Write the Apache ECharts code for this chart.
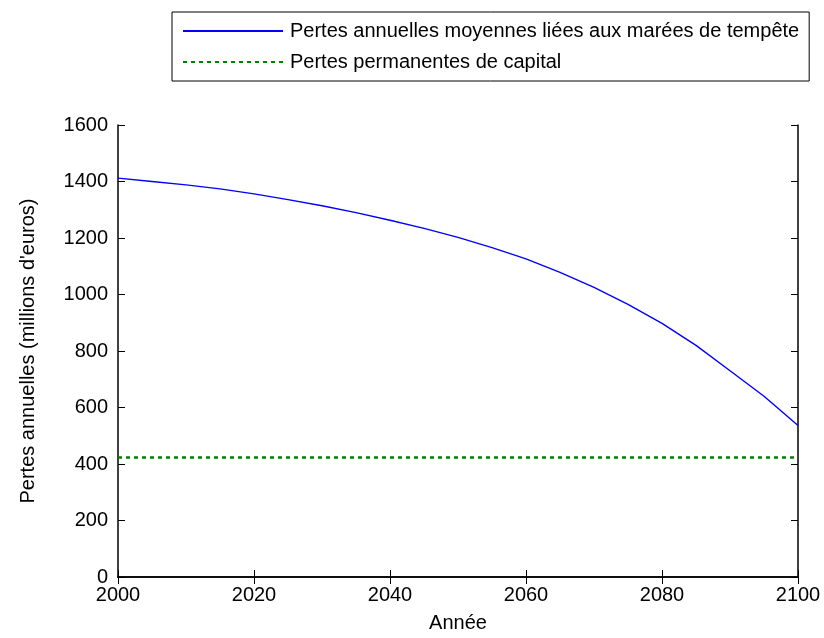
<!DOCTYPE html>
<html>
<head>
<meta charset="utf-8">
<script src="https://cdn.jsdelivr.net/npm/echarts@6/dist/echarts.min.js"></script>
<style>
html,body{margin:0;padding:0;background:#fff;}
#chart{width:824px;height:638px;}
</style>
</head>
<body>
<div id="chart"></div>
<script>
const years = [2000,2005,2010,2015,2020,2025,2030,2035,2040,2045,2050,2055,2060,2065,2070,2075,2080,2085,2090,2095,2100];
const stormLosses = [1412,1400,1388,1374,1356,1336,1314,1290,1263,1234,1202,1166,1126,1078,1025,965,898,820,730,640,536];
const capitalYears = [2000,2100];
const capitalLosses = [423,423];
const seriesNames = ['Pertes annuelles moyennes liées aux marées de tempête','Pertes permanentes de capital'];
const xTitle = 'Année';
const yTitle = "Pertes annuelles (millions d'euros)";

const FONT = 'Liberation Sans, Arial, sans-serif';
const FS = 20;
const chart = echarts.init(document.getElementById('chart'), null, {renderer:'canvas'});
const axisCommon = {
  type:'value',
  axisLine:{show:true,lineStyle:{color:'#000',width:1.5}},
  axisTick:{show:true,inside:true,length:7,lineStyle:{color:'#000',width:1}},
  splitLine:{show:false}
};
const plain = v => String(v);
chart.setOption({
  animation:false,
  backgroundColor:'#fff',
  textStyle:{fontFamily:FONT},
  grid:{left:118,right:26,top:125,bottom:45,containLabel:false},
  legend:{
    orient:'vertical',left:172,top:12,
    padding:[9,10,9,10],itemGap:11,itemWidth:100,itemHeight:20,
    borderColor:'#000',borderWidth:1,backgroundColor:'#fff',
    itemStyle:{opacity:0},
    textStyle:{fontFamily:FONT,fontSize:FS,color:'#000',padding:[0,0,0,2]},
    data:seriesNames
  },
  xAxis:[
    Object.assign({},axisCommon,{min:2000,max:2100,interval:20,position:'bottom',
      name:xTitle,nameLocation:'middle',nameGap:36,
      nameTextStyle:{fontFamily:FONT,fontSize:FS,color:'#000'},
      axisLabel:{color:'#000',fontFamily:FONT,fontSize:FS,margin:8,formatter:plain}}),
    Object.assign({},axisCommon,{min:2000,max:2100,interval:20,position:'top',axisLabel:{show:false}})
  ],
  yAxis:[
    Object.assign({},axisCommon,{min:0,max:1600,interval:200,position:'left',
      name:yTitle,nameLocation:'middle',nameGap:80,
      nameTextStyle:{fontFamily:FONT,fontSize:FS,color:'#000'},
      axisLabel:{color:'#000',fontFamily:FONT,fontSize:FS,margin:10,formatter:plain}}),
    Object.assign({},axisCommon,{min:0,max:1600,interval:200,position:'right',axisLabel:{show:false}})
  ],
  series:[
    {name:seriesNames[0],type:'line',showSymbol:false,symbol:'none',
      data:years.map((y,i)=>[y,stormLosses[i]]),
      lineStyle:{color:'#0000ff',width:1.4},itemStyle:{color:'#0000ff'},z:3},
    {name:seriesNames[1],type:'line',showSymbol:false,symbol:'none',
      data:capitalYears.map((y,i)=>[y,capitalLosses[i]]),
      lineStyle:{color:'#008000',width:2.5,type:[4,4]},itemStyle:{color:'#008000'},z:2}
  ]
});
</script>
</body>
</html>
